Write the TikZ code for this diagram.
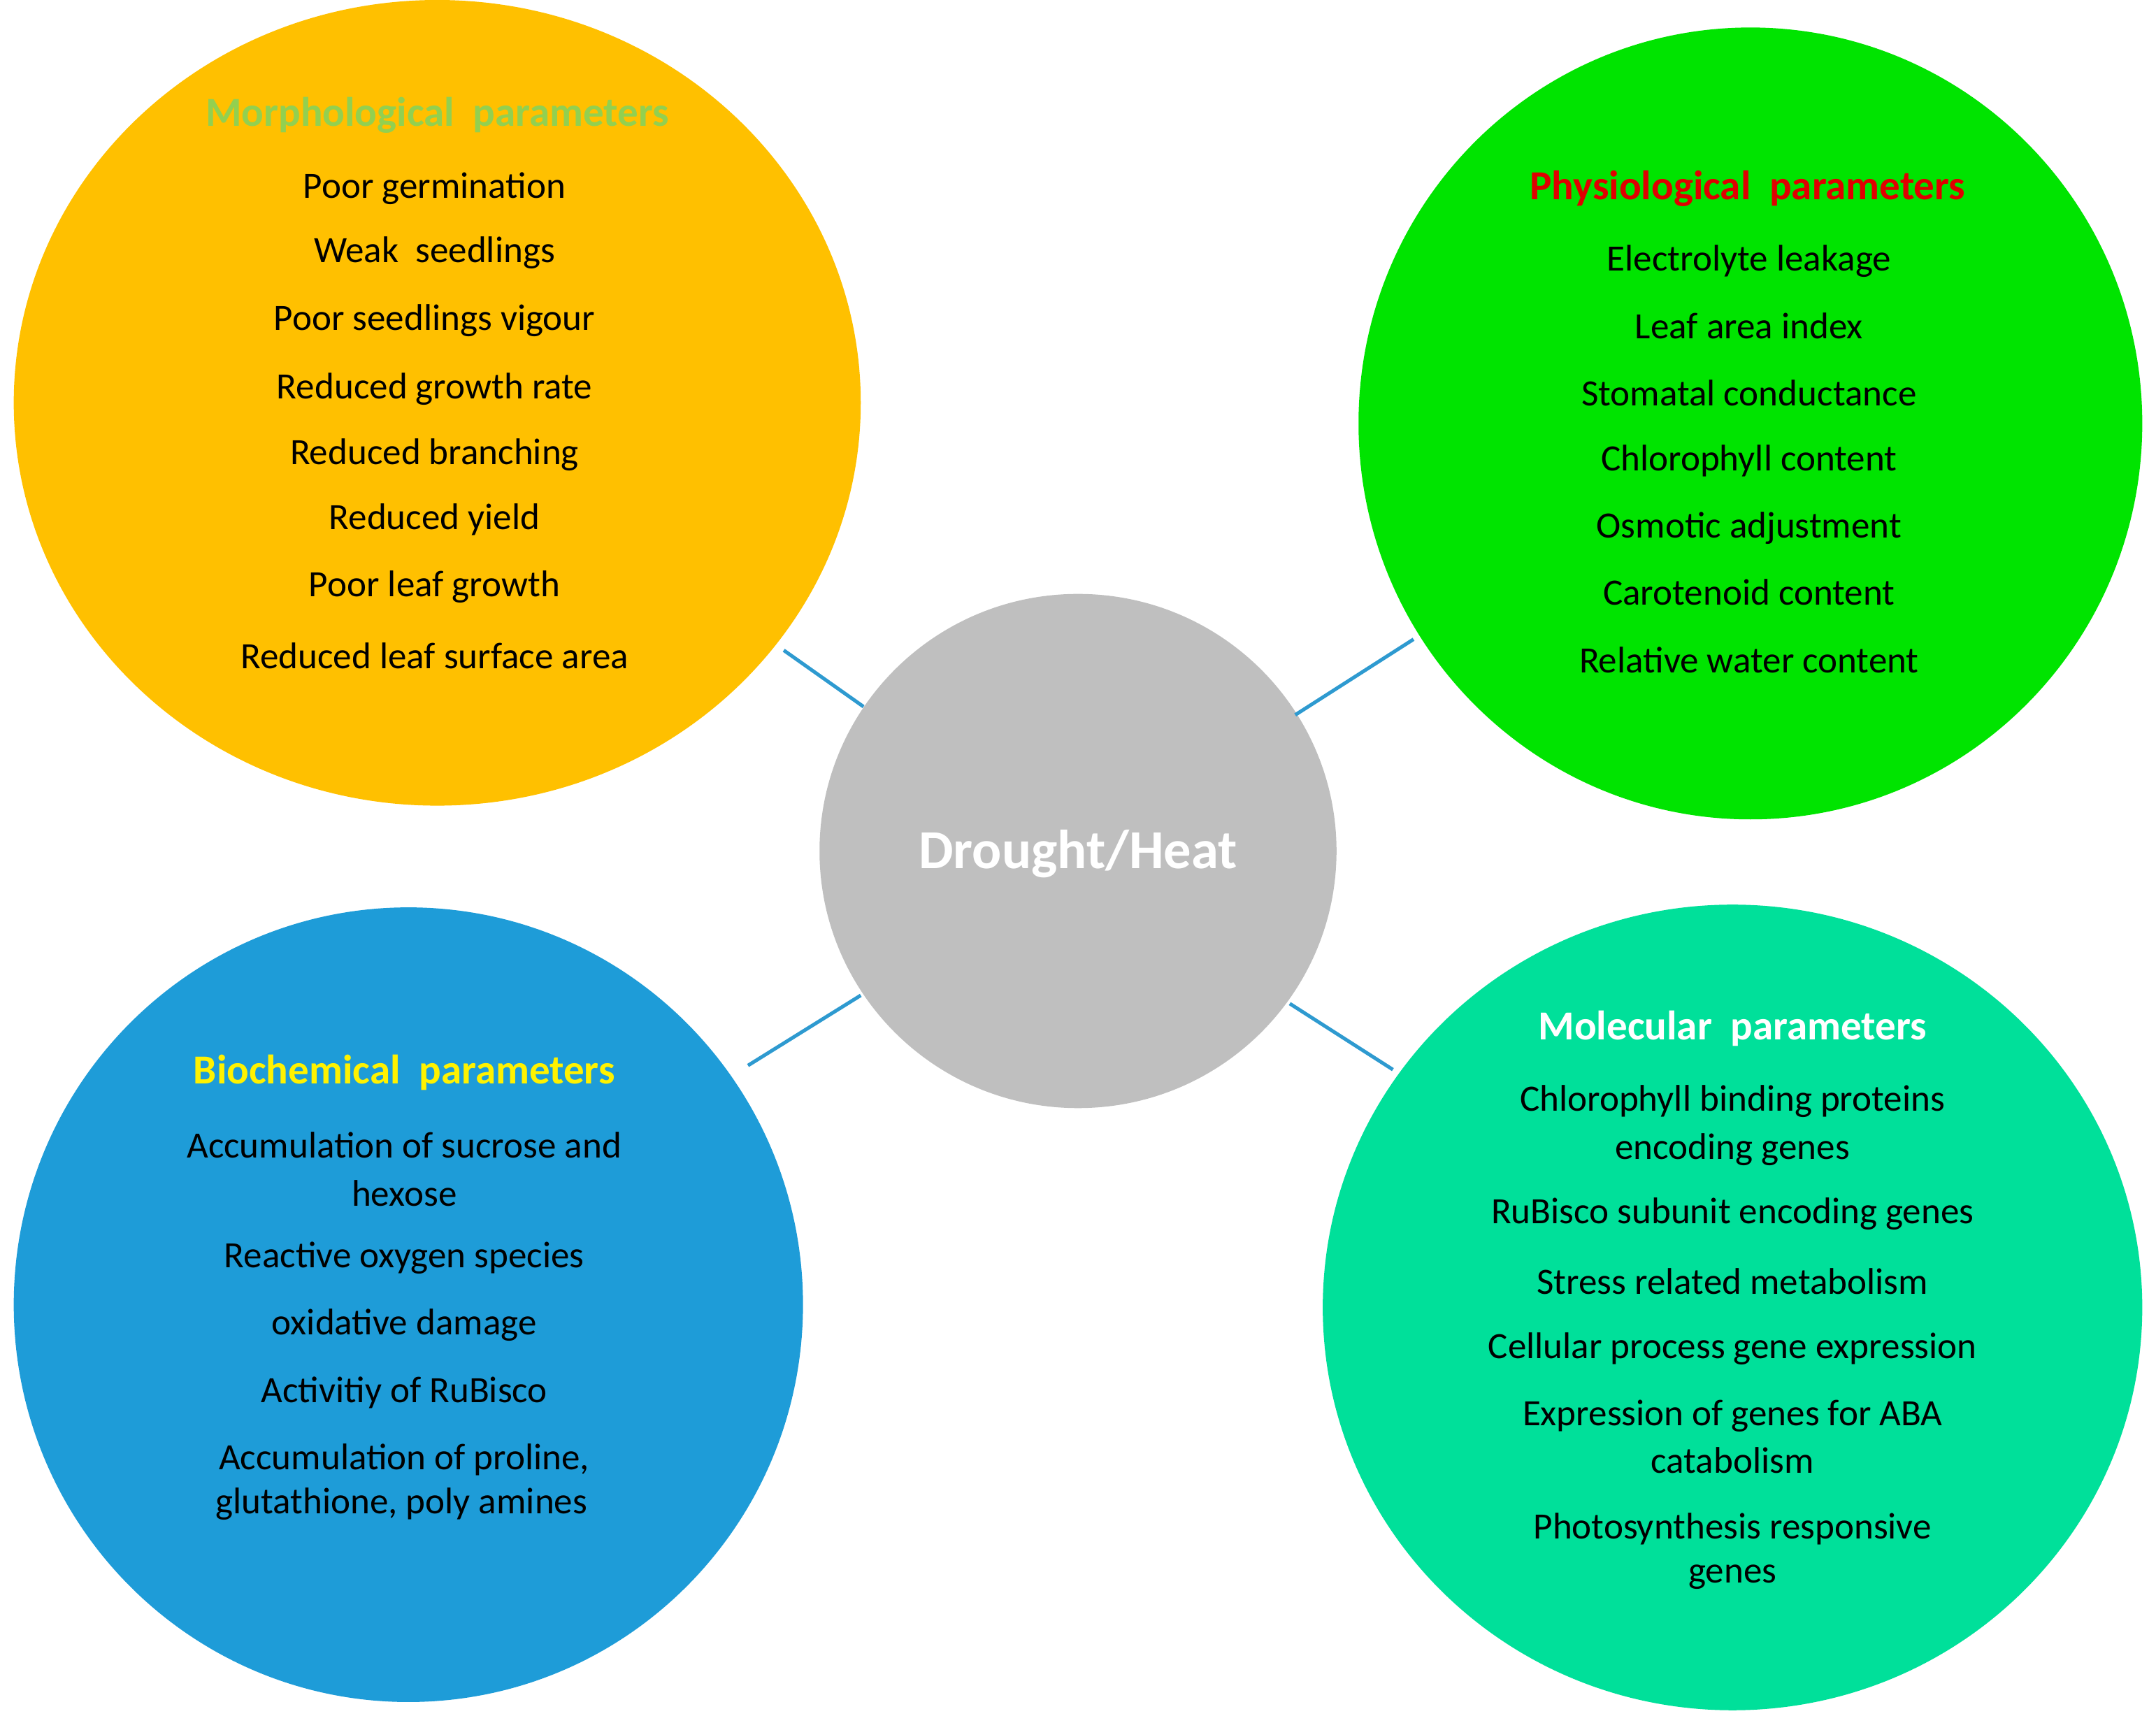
\documentclass[tikz,border=0pt]{standalone}
\usepackage{fontspec}
\setmainfont{Carlito}
\definecolor{corange}{HTML}{FFC000}
\definecolor{cgreen}{HTML}{00E400}
\definecolor{cgrey}{HTML}{BFBFBF}
\definecolor{cblue}{HTML}{1E9CD8}
\definecolor{cteal}{HTML}{00E09A}
\definecolor{cline}{HTML}{2E9AD0}
\definecolor{tmorph}{HTML}{92D050}
\definecolor{tphys}{HTML}{E00000}
\begin{document}
\begin{tikzpicture}[x=0.5pt,y=-0.5pt,
  blob/.style={draw=none},
  body/.style={font=\fontsize{13.5}{16}\selectfont,anchor=center,inner sep=0pt},
  ttl/.style={font=\fontsize{15}{18}\selectfont\bfseries,anchor=center,inner sep=0pt},
  conn/.style={draw=cline,line width=1.3pt}]
\useasboundingbox (0,0) rectangle (1568,1258);
\fill[corange] (318,293) ellipse [x radius=308,y radius=293];
\fill[cgreen] (1273,308) ellipse [x radius=285,y radius=288];
\fill[cgrey] (784,619) ellipse [x radius=188,y radius=187];
\fill[cblue] (297,949) ellipse [x radius=287,y radius=289];
\fill[cteal] (1260,951) ellipse [x radius=298,y radius=293];
\coordinate (a1) at (570,473); \coordinate (a2) at (628,514);
\coordinate (b1) at (942,520); \coordinate (b2) at (1028,465);
\coordinate (c1) at (544,775); \coordinate (c2) at (626,724);
\coordinate (d1) at (938,730); \coordinate (d2) at (1013,778);
\draw[conn] (a1) -- (a2); \draw[conn] (b1) -- (b2);
\draw[conn] (c1) -- (c2); \draw[conn] (d1) -- (d2);
\node[font=\fontsize{20}{24}\selectfont\bfseries,text=white] (center) at (784,621) {Drought/Heat};
% orange
\node[ttl,text=tmorph] (m0) at (318,84) {Morphological\ \ parameters};
\node[body] (m1) at (316,137) {Poor germination};
\node[body] (m2) at (316,184) {Weak\ \ seedlings};
\node[body] (m3) at (316,233) {Poor seedlings vigour};
\node[body] (m4) at (316,283) {Reduced growth rate};
\node[body] (m5) at (316,331) {Reduced branching};
\node[body] (m6) at (316,378) {Reduced yield};
\node[body] (m7) at (316,427) {Poor leaf growth};
\node[body] (m8) at (316,477) {Reduced leaf\ surface area};
% green
\node[ttl,text=tphys] (p0) at (1271,137) {Physiological\ \ parameters};
\node[body] (p1) at (1272,190) {Electrolyte leakage};
\node[body] (p2) at (1272,237) {Leaf area\ index};
\node[body] (p3) at (1272,286) {Stomatal conductance};
\node[body] (p4) at (1272,335) {Chlorophyll content};
\node[body] (p5) at (1272,384) {Osmotic adjustment};
\node[body] (p6) at (1272,431) {Carotenoid content};
\node[body] (p7) at (1272,480) {Relative water\ content};
% blue
\node[ttl,text=yellow] (b0) at (294,780) {Biochemical\ \ parameters};
\node[body] (bb1) at (294,833) {Accumulation of sucrose and};
\node[body] (bb2) at (294,868) {hexose};
\node[body] (bb3) at (294,915) {Reactive oxygen species};
\node[body] (bb4) at (294,964) {oxidative damage};
\node[body] (bb5) at (294,1013) {Activitiy of RuBisco};
\node[body] (bb6) at (294,1062) {Accumulation of proline,};
\node[body] (bb7) at (292,1094) {glutathione, poly amines};
% teal
\node[ttl,text=white] (t0) at (1260,748) {Molecular\ \ parameters};
\node[body] (t1) at (1260,801) {Chlorophyll binding proteins};
\node[body] (t2) at (1260,836) {encoding genes};
\node[body] (t3) at (1260,883) {RuBisco subunit encoding genes};
\node[body] (t4) at (1260,932) {Stress related\ metabolism};
\node[body] (t5) at (1260,981) {Cellular process gene expression};
\node[body] (t6) at (1260,1030) {Expression of genes for ABA};
\node[body] (t7) at (1260,1062) {catabolism};
\node[body] (t8) at (1260,1112) {Photosynthesis responsive};
\node[body] (t9) at (1260,1147) {genes};
\end{tikzpicture}
\end{document}
